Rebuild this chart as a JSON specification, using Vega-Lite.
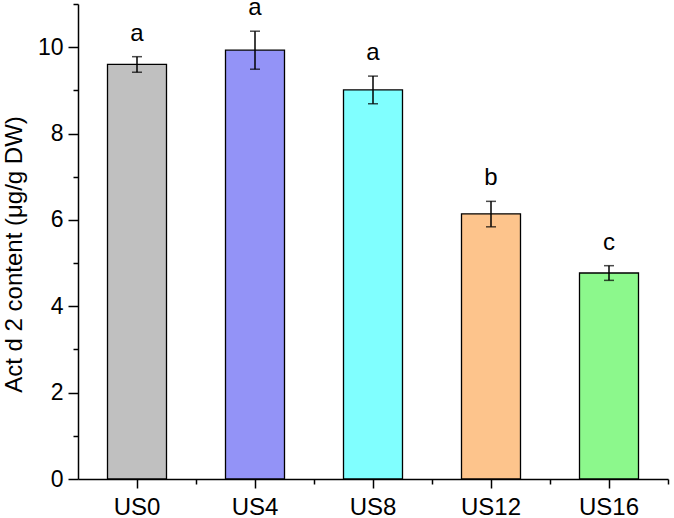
{
  "$schema": "https://vega.github.io/schema/vega-lite/v6.json",
  "width": 590,
  "height": 475,
  "autosize": {"type": "none"},
  "padding": {"left": 78, "top": 4, "right": 6, "bottom": 39},
  "background": "white",
  "config": {"view": {"stroke": null}, "font": "Liberation Sans"},
  "data": {"values": [
    {"group": "US0", "mean": 9.6, "lower": 9.42, "upper": 9.78, "letter": "a", "color": "#c0c0c0"},
    {"group": "US4", "mean": 9.93, "lower": 9.49, "upper": 10.37, "letter": "a", "color": "#9393f7"},
    {"group": "US8", "mean": 9.01, "lower": 8.69, "upper": 9.33, "letter": "a", "color": "#80ffff"},
    {"group": "US12", "mean": 6.14, "lower": 5.84, "upper": 6.43, "letter": "b", "color": "#fdc48c"},
    {"group": "US16", "mean": 4.77, "lower": 4.6, "upper": 4.94, "letter": "c", "color": "#8cf88c"}
  ]},
  "layer": [
    {
      "mark": {"type": "bar", "stroke": "black", "strokeWidth": 1.3},
      "encoding": {
        "x": {"field": "group", "type": "nominal", "sort": null,
          "scale": {"paddingInner": 0.5, "paddingOuter": 0.25},
          "axis": {"orient": "bottom", "title": null, "labelAngle": 0, "labelFontSize": 24, "labelColor": "black",
            "domainColor": "black", "domainWidth": 1.5, "tickColor": "black", "tickWidth": 1.5,
            "tickSize": 9, "labelPadding": 7}},
        "y": {"field": "mean", "type": "quantitative",
          "scale": {"domain": [0, 11], "nice": false},
          "axis": {"title": "Act d 2 content (μg/g DW)", "titleFontSize": 24, "titleFontWeight": "normal",
            "titleColor": "black", "titlePadding": 11, "titleY": 250,
            "values": [0,1,2,3,4,5,6,7,8,9,10,11],
            "labelExpr": "datum.value % 2 == 0 && datum.value < 11 ? datum.label : ''",
            "labelFontSize": 23, "labelColor": "black", "labelPadding": 5, "grid": false,
            "domainColor": "black", "domainWidth": 1.5, "tickColor": "black", "tickWidth": 1.5,
            "tickSize": {"condition": {"test": "datum.value % 2 == 0", "value": 10}, "value": 5}}},
        "color": {"field": "color", "type": "nominal", "scale": null}
      }
    },
    {
      "mark": {"type": "point", "opacity": 0},
      "encoding": {
        "x": {"field": "group", "type": "nominal", "sort": null,
          "axis": {"orient": "bottom", "title": null, "labels": false, "domain": false,
            "bandPosition": 1, "tickOffset": 29.5, "tickColor": "black", "tickWidth": 1.5, "tickSize": 5}},
        "y": {"field": "mean", "type": "quantitative"}
      }
    },
    {
      "mark": {"type": "rule", "color": "black", "strokeWidth": 1.5},
      "encoding": {
        "x": {"field": "group", "type": "nominal", "sort": null, "axis": null},
        "y": {"field": "lower", "type": "quantitative"},
        "y2": {"field": "upper"}
      }
    },
    {
      "mark": {"type": "tick", "color": "black", "thickness": 1.5, "size": 10},
      "encoding": {
        "x": {"field": "group", "type": "nominal", "sort": null, "axis": null},
        "y": {"field": "lower", "type": "quantitative"}
      }
    },
    {
      "mark": {"type": "tick", "color": "black", "thickness": 1.5, "size": 10},
      "encoding": {
        "x": {"field": "group", "type": "nominal", "sort": null, "axis": null},
        "y": {"field": "upper", "type": "quantitative"}
      }
    },
    {
      "mark": {"type": "text", "fontSize": 24, "color": "black", "baseline": "alphabetic", "dy": -16},
      "encoding": {
        "x": {"field": "group", "type": "nominal", "sort": null, "axis": null},
        "y": {"field": "upper", "type": "quantitative"},
        "text": {"field": "letter"}
      }
    }
  ],
  "resolve": {"axis": {"x": "independent"}}
}
